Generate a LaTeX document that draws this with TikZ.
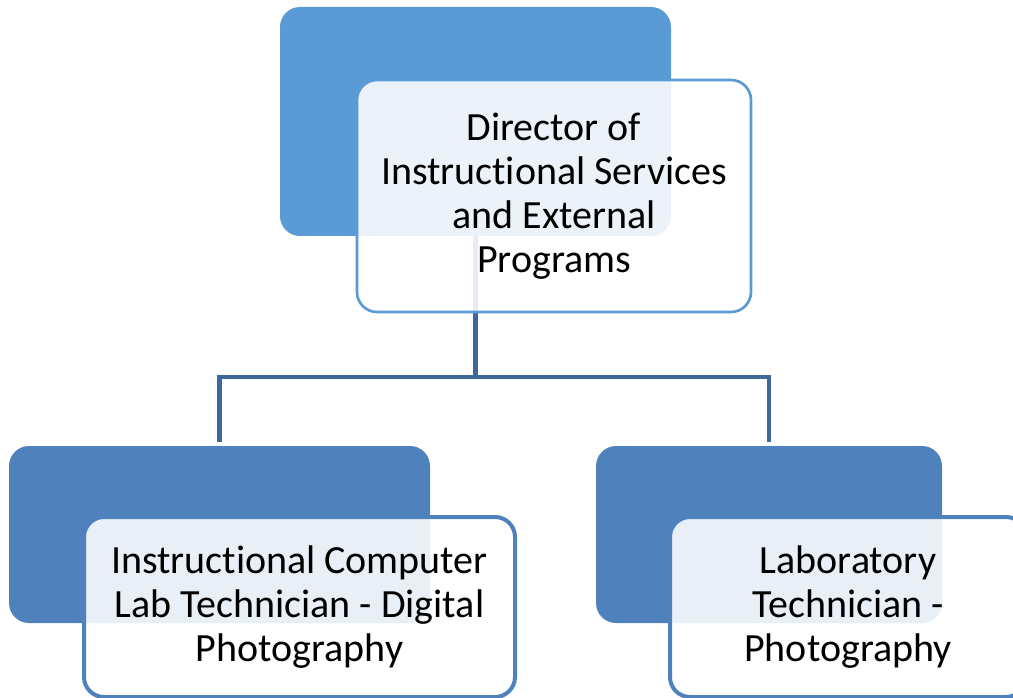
\documentclass[tikz,border=0pt]{standalone}
\usepackage{fontspec}
\setmainfont[Ligatures=NoCommon]{Carlito}
\definecolor{topblue}{HTML}{5B9BD5}
\definecolor{lowblue}{HTML}{4F81BD}
\definecolor{linkblue}{HTML}{3E6898}
\begin{document}
\begin{tikzpicture}[x=0.75pt,y=-0.75pt,
  shade/.style={rectangle, rounded corners=15pt, inner sep=0pt, outer sep=0pt},
  card/.style={rectangle, rounded corners=15pt, inner sep=0pt, outer sep=0pt,
    fill=white, fill opacity=0.88, text opacity=1, align=center,
    font=\fontsize{30pt}{33pt}\selectfont},
  link/.style={draw=linkblue, line width=3.2pt}]
\useasboundingbox (0,0) rectangle (1013,698);
\clip (0,0) rectangle (1013,698);

% back panels
\node[shade, fill=topblue, minimum width={391*0.75pt}, minimum height={229*0.75pt}]
  (topback) at (475.5,121.5) {};
\node[shade, fill=lowblue, minimum width={421*0.75pt}, minimum height={177*0.75pt}]
  (leftback) at (219.5,534.5) {};
\node[shade, fill=lowblue, minimum width={346*0.75pt}, minimum height={177*0.75pt}]
  (rightback) at (769,534.5) {};

% tree connector
\coordinate (fork) at (475.5,377);
\draw[link] (topback.south) -- (fork);
\draw[link, shorten >=3pt] (fork) -| (leftback.north);
\draw[link, shorten >=3pt] (fork) -| (rightback.north);

% front cards
\node[card, draw=topblue, draw opacity=1, line width=2pt,
  minimum width={394*0.75pt}, minimum height={232*0.75pt}] (director) at (554,196)
  {Director of\\Instructional Services\\and External\\Programs};
\node[card, draw=lowblue, draw opacity=1, line width=3pt,
  minimum width={431*0.75pt}, minimum height={180*0.75pt}] (complab) at (299.5,607)
  {Instructional Computer\\Lab Technician - Digital\\Photography};
\node[card, draw=lowblue, draw opacity=1, line width=3pt,
  minimum width={356*0.75pt}, minimum height={180*0.75pt}] (photolab) at (848,607)
  {Laboratory\\Technician -\\Photography};
\end{tikzpicture}
\end{document}
